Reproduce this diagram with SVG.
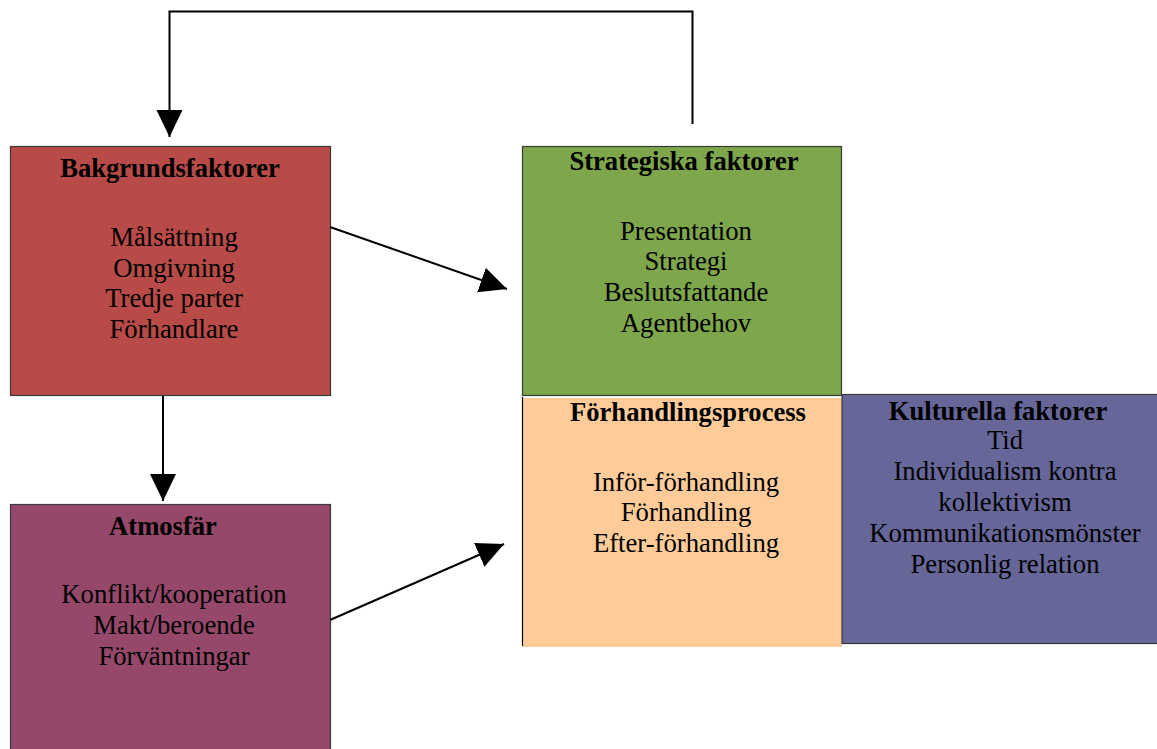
<svg xmlns="http://www.w3.org/2000/svg" width="1157" height="749" viewBox="0 0 1157 749">
  <style>
    .box { stroke: #3a3a3a; stroke-width: 1.2; }
    .title { font-family: "Liberation Serif", "Times New Roman", serif; font-weight: bold; font-size: 26.6px; fill: #000; text-anchor: middle; }
    .body { font-family: "Liberation Serif", "Times New Roman", serif; font-size: 26.7px; fill: #000; text-anchor: middle; }
    .conn { fill: none; stroke: #000; stroke-width: 2; }
  </style>
  <defs>
    <marker id="arrow" markerUnits="userSpaceOnUse" markerWidth="28" markerHeight="28" refX="27" refY="13" orient="auto">
      <path d="M0,0 L27,13 L0,26 Z" fill="#000"/>
    </marker>
  </defs>
  <rect width="1157" height="749" fill="#fff"/>

  <!-- Background factors -->
  <g id="bakgrundsfaktorer">
    <rect class="box" x="10.5" y="146.5" width="320" height="249" fill="#B84A48"/>
    <text class="title" x="170" y="177">Bakgrundsfaktorer</text>
    <text class="body" x="174" y="246">Målsättning</text>
    <text class="body" x="174" y="276.5">Omgivning</text>
    <text class="body" x="174" y="307">Tredje parter</text>
    <text class="body" x="174" y="337.5">Förhandlare</text>
  </g>

  <!-- Atmosphere -->
  <g id="atmosfar">
    <rect class="box" x="10.5" y="504.5" width="320" height="250" fill="#954869"/>
    <text class="title" x="163" y="535">Atmosfär</text>
    <text class="body" x="174" y="603">Konflikt/kooperation</text>
    <text class="body" x="174" y="634">Makt/beroende</text>
    <text class="body" x="174" y="664.5">Förväntningar</text>
  </g>

  <!-- Strategic factors -->
  <g id="strategiska">
    <rect class="box" x="522.5" y="146.5" width="319" height="249" fill="#7EA64A"/>
    <text class="title" x="684" y="170">Strategiska faktorer</text>
    <text class="body" x="686" y="239.5">Presentation</text>
    <text class="body" x="686" y="270">Strategi</text>
    <text class="body" x="686" y="301">Beslutsfattande</text>
    <text class="body" x="686" y="331.5">Agentbehov</text>
  </g>

  <!-- Negotiation process -->
  <g id="forhandlingsprocess">
    <rect x="522" y="398" width="320" height="249" fill="#FFCC99"/>
    <line x1="522.5" y1="397" x2="522.5" y2="646" stroke="#000" stroke-width="1.2"/>
    <text class="title" x="688" y="421">Förhandlingsprocess</text>
    <text class="body" x="686" y="490.5">Inför-förhandling</text>
    <text class="body" x="686" y="521">Förhandling</text>
    <text class="body" x="686" y="552">Efter-förhandling</text>
  </g>

  <!-- Cultural factors -->
  <g id="kulturella">
    <rect class="box" x="842" y="394.5" width="320" height="249" fill="#666699"/>
    <text class="title" x="998" y="420">Kulturella faktorer</text>
    <text class="body" x="1005" y="449">Tid</text>
    <text class="body" x="1005" y="480">Individualism kontra</text>
    <text class="body" x="1005" y="511">kollektivism</text>
    <text class="body" x="1005" y="541.5">Kommunikationsmönster</text>
    <text class="body" x="1005" y="572.5">Personlig relation</text>
  </g>

  <!-- Connectors -->
  <g id="connectors">
    <polyline class="conn" points="692.5,124 692.5,11.5 169.5,11.5 169.5,137" marker-end="url(#arrow)"/>
    <line class="conn" x1="330" y1="227" x2="507" y2="289" marker-end="url(#arrow)"/>
    <line class="conn" x1="163" y1="396" x2="163" y2="501" marker-end="url(#arrow)"/>
    <line class="conn" x1="330" y1="620" x2="504" y2="544" marker-end="url(#arrow)"/>
  </g>
</svg>
